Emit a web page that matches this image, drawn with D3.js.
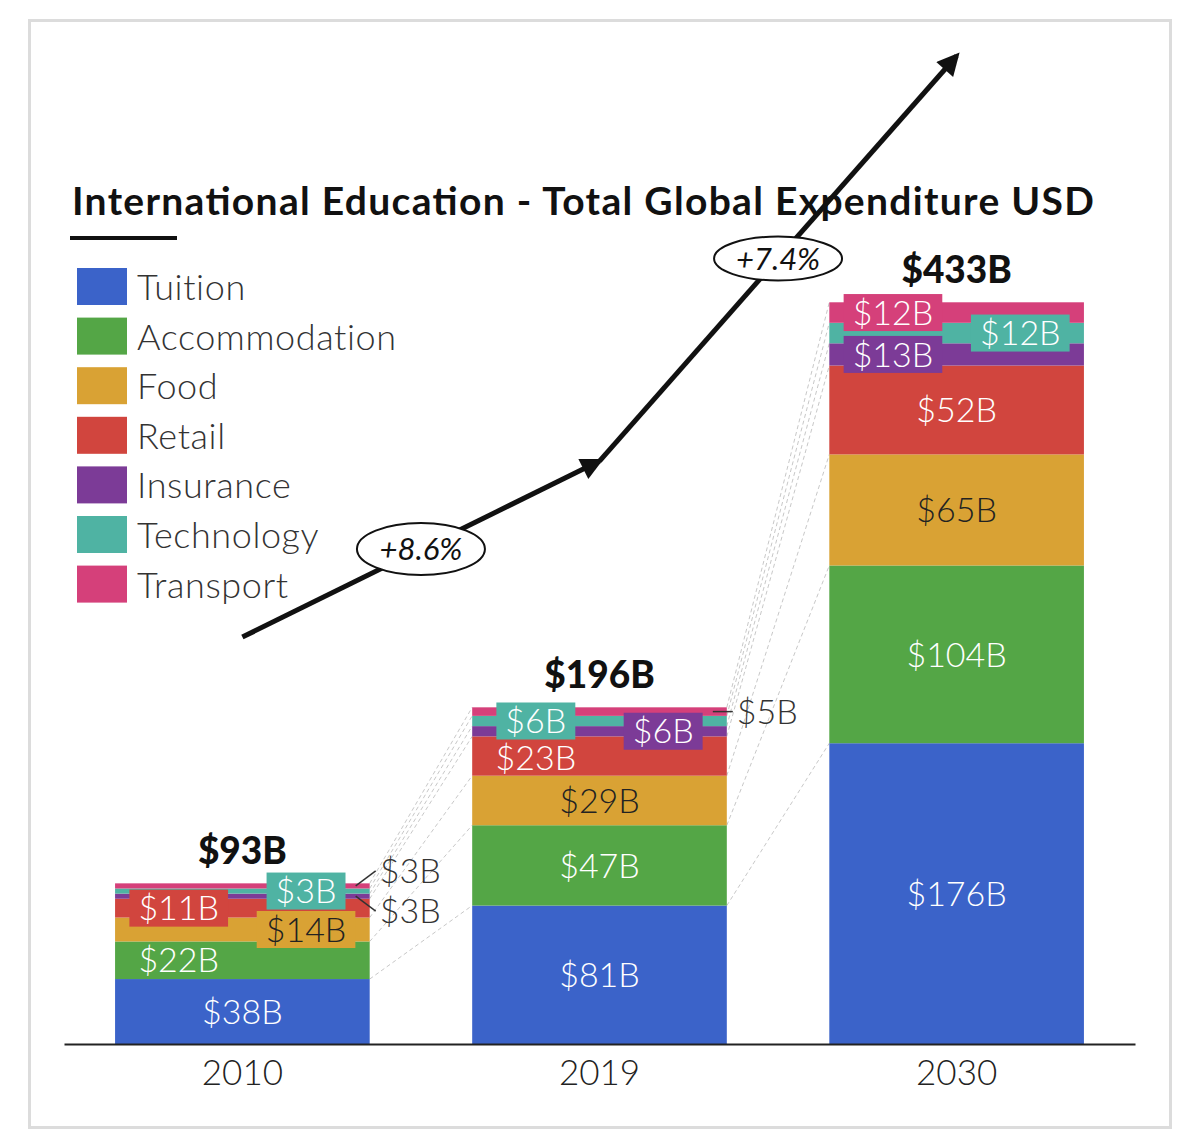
<!DOCTYPE html>
<html>
<head>
<meta charset="utf-8">
<script src="https://cdn.jsdelivr.net/npm/d3@7"></script>
<style>
  body { margin: 0; background: #fff; }
  svg { display: block; font-family: Lato, "Open Sans", sans-serif; }
</style>
</head>
<body>
<svg id="chart"></svg>
<script>
// data (USD billions)
const years = ["2010", "2019", "2030"];
const categories = ["Tuition", "Accommodation", "Food", "Retail", "Insurance", "Technology", "Transport"];
const colors = ["#3b63c9", "#54a646", "#d9a234", "#d1453e", "#7c3b97", "#4fb3a3", "#d5407a"];
const tuition = [38, 81, 176];
const accommodation = [22, 47, 104];
const food = [14, 29, 65];
const retail = [11, 23, 52];
const insurance = [3, 6, 13];
const technology = [3, 6, 12];
const transport = [3, 5, 12];
const totals = [93, 196, 433];
const growth = ["+8.6%", "+7.4%"];

// label layout per year, in category order
// c = centred, l / r = left / right quarter of the bar, b = boxed, o = outside with a leader
const placement = {
  "2010": [{p: "c"}, {p: "l"}, {p: "r", b: true}, {p: "l", b: true}, {p: "o", dy: 15}, {p: "r", b: true}, {p: "o", dy: -15}],
  "2019": [{p: "c"}, {p: "c"}, {p: "c"}, {p: "l", dy: 2}, {p: "r", b: true}, {p: "l", b: true}, {p: "o", dy: 0}],
  "2030": [{p: "c"}, {p: "c"}, {p: "c"}, {p: "c"}, {p: "l", b: true}, {p: "r", b: true}, {p: "l", b: true}]
};
const darkText = ["Food"];

const W = 1200, H = 1143;
const svg = d3.select("#chart").attr("width", W).attr("height", H);

// frame
svg.append("rect")
  .attr("x", 29.5).attr("y", 20.5)
  .attr("width", 1141).attr("height", 1107)
  .attr("fill", "#fff")
  .attr("stroke", "#dcdcdc")
  .attr("stroke-width", 3);

const x = d3.scaleBand()
  .domain(years)
  .range([64, 1135])
  .paddingInner(0.287)
  .paddingOuter(0.143);

const y = d3.scaleLinear()
  .domain([0, d3.max(totals)])
  .range([1044, 304]);

const bw = x.bandwidth();
const series = [tuition, accommodation, food, retail, insurance, technology, transport];
const rows = years.map((yr, i) => {
  const r = {year: yr};
  categories.forEach((c, j) => r[c] = series[j][i]);
  return r;
});
const stacked = d3.stack().keys(categories)(rows);

// dashed connectors between bars
const conn = svg.append("g");
stacked.forEach(layer => {
  for (let i = 0; i < years.length - 1; i++) {
    conn.append("line")
      .attr("x1", x(years[i]) + bw).attr("y1", y(layer[i][1]))
      .attr("x2", x(years[i + 1])).attr("y2", y(layer[i + 1][1]))
      .attr("stroke", "#c8c8c8")
      .attr("stroke-width", 1)
      .attr("stroke-dasharray", "4,3");
  }
});

// bars
svg.append("g").selectAll("g")
  .data(stacked)
  .join("g")
  .attr("fill", (d, i) => colors[i])
  .selectAll("rect")
  .data(d => d)
  .join("rect")
  .attr("x", d => x(d.data.year))
  .attr("y", d => y(d[1]))
  .attr("width", bw)
  .attr("height", d => y(d[0]) - y(d[1]));

// segment labels
const labels = svg.append("g").attr("font-size", 34).attr("font-weight", 300);
years.forEach((yr, i) => {
  stacked.forEach((layer, j) => {
    const d = layer[i];
    const pl = placement[yr][j];
    const cy = (y(d[0]) + y(d[1])) / 2;
    const txt = "$" + series[j][i] + "B";
    const x0 = x(yr);
    if (pl.p === "o") {
      const ly = cy + pl.dy;
      labels.append("line")
        .attr("x1", x0 + bw - 14).attr("y1", cy)
        .attr("x2", x0 + bw + 6).attr("y2", ly)
        .attr("stroke", "#333").attr("stroke-width", 1.5);
      labels.append("text")
        .attr("x", x0 + bw + 10).attr("y", ly)
        .attr("dy", "0.36em")
        .attr("fill", "#333")
        .text(txt);
      return;
    }
    const cx = pl.p === "l" ? x0 + bw * 0.25 : pl.p === "r" ? x0 + bw * 0.75 : x0 + bw / 2;
    const g = labels.append("g");
    const t = g.append("text")
      .attr("x", cx).attr("y", cy + (pl.dy || 0))
      .attr("dy", "0.36em")
      .attr("text-anchor", "middle")
      .attr("fill", darkText.includes(categories[j]) ? "#222" : "#fff")
      .text(txt);
    if (pl.b) {
      const tw = t.node().getComputedTextLength();
      g.insert("rect", "text")
        .attr("x", cx - tw / 2 - 9).attr("y", cy - 18.5)
        .attr("width", tw + 18).attr("height", 37)
        .attr("fill", colors[j]);
    }
  });
});

// totals above bars
svg.append("g").selectAll("text")
  .data(totals)
  .join("text")
  .attr("x", (d, i) => x(years[i]) + bw / 2)
  .attr("y", d => y(d) - 21)
  .attr("text-anchor", "middle")
  .attr("font-size", 37)
  .attr("font-weight", 900)
  .attr("fill", "#111")
  .text(d => "$" + d + "B");

// x axis
const xAxis = svg.append("g")
  .attr("transform", "translate(0,1044)")
  .call(d3.axisBottom(x).tickSize(0).tickPadding(16));
xAxis.select(".domain").attr("stroke", "#222").attr("stroke-width", 2);
xAxis.selectAll("text")
  .attr("font-size", 35)
  .attr("font-weight", 300)
  .attr("font-family", "Lato, sans-serif")
  .attr("fill", "#222");

// title
svg.append("text")
  .attr("x", 72).attr("y", 215)
  .attr("font-size", 39)
  .attr("font-weight", 700)
  .attr("fill", "#111")
  .attr("textLength", 1022)
  .attr("lengthAdjust", "spacing")
  .text("International Education - Total Global Expenditure USD");
svg.append("line")
  .attr("x1", 70).attr("x2", 177)
  .attr("y1", 238).attr("y2", 238)
  .attr("stroke", "#111").attr("stroke-width", 4);

// legend
const legend = svg.append("g").attr("transform", "translate(77,268)");
const li = legend.selectAll("g")
  .data(categories)
  .join("g")
  .attr("transform", (d, i) => `translate(0,${i * 49.6})`);
li.append("rect")
  .attr("width", 50).attr("height", 37)
  .attr("fill", (d, i) => colors[i]);
li.append("text")
  .attr("x", 60).attr("y", 19)
  .attr("dy", "0.36em")
  .attr("font-size", 36)
  .attr("font-weight", 300)
  .attr("letter-spacing", 0.6)
  .attr("fill", "#333")
  .text(d => d);

// growth arrows
svg.append("defs").append("marker")
  .attr("id", "head")
  .attr("viewBox", "0 0 10 10")
  .attr("refX", 8).attr("refY", 5)
  .attr("markerWidth", 5.5).attr("markerHeight", 4.5)
  .attr("markerUnits", "strokeWidth")
  .attr("orient", "auto")
  .append("path")
  .attr("d", "M0,0 L10,5 L0,10 Z")
  .attr("fill", "#111");

const pts = years.map((yr, i) => [x(yr) + bw / 2, y(totals[i]) - 248]);
const arrows = svg.append("g");
for (let i = 0; i < pts.length - 1; i++) {
  const [a, b] = [pts[i], pts[i + 1]];
  arrows.append("line")
    .attr("x1", a[0]).attr("y1", a[1])
    .attr("x2", b[0]).attr("y2", b[1])
    .attr("stroke", "#111")
    .attr("stroke-width", 5)
    .attr("marker-end", "url(#head)");
  const mx = (a[0] + b[0]) / 2, my = (a[1] + b[1]) / 2;
  arrows.append("ellipse")
    .attr("cx", mx).attr("cy", my)
    .attr("rx", 64).attr("ry", i === 0 ? 26 : 22)
    .attr("fill", "#fff")
    .attr("stroke", "#111")
    .attr("stroke-width", 2);
  arrows.append("text")
    .attr("x", mx).attr("y", my)
    .attr("dy", "0.36em")
    .attr("text-anchor", "middle")
    .attr("font-size", 31)
    .attr("font-style", "italic")
    .attr("font-weight", 400)
    .attr("fill", "#111")
    .text(growth[i]);
}
</script>
</body>
</html>
